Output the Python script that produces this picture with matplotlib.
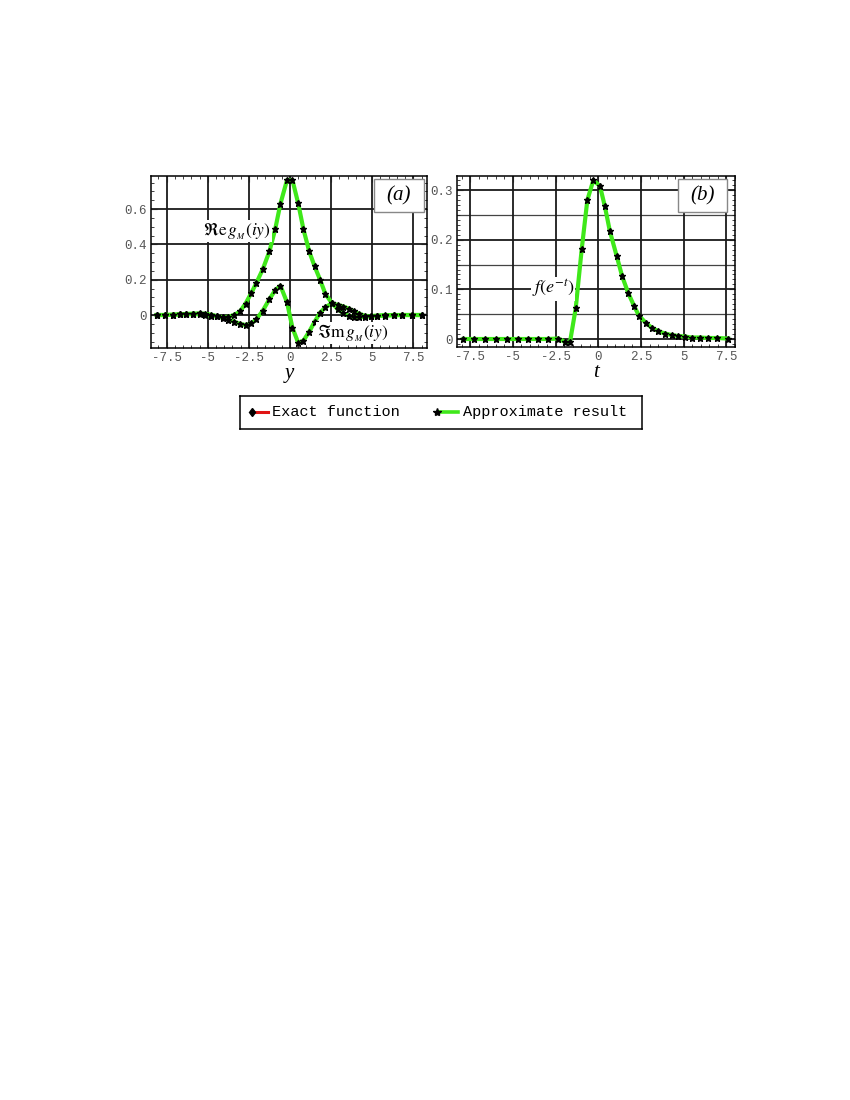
import numpy as np
import matplotlib
matplotlib.use('Agg')
import matplotlib.pyplot as plt
from matplotlib.ticker import MultipleLocator, FuncFormatter
from matplotlib.patches import Rectangle

plt.rcParams['font.family'] = 'Liberation Mono'
plt.rcParams['mathtext.fontset'] = 'stix'
plt.rcParams['axes.unicode_minus'] = False

# ── panel (a): g_M(iy) on the imaginary axis ──
y_a = [-8.1, -7.6, -7.1, -6.7, -6.3, -5.9, -5.5, -5.15, -4.8, -4.45, -4.1, -3.75,
       -3.4, -3.04, -2.7, -2.35, -2.05, -1.65, -1.25, -0.9, -0.58, -0.18, 0.15,
       0.5, 0.82, 1.17, 1.5, 1.83, 2.15, 2.53, 2.9, 3.25, 3.6, 3.9, 4.2, 4.55,
       4.95, 5.3, 5.8, 6.3, 6.8, 7.4, 8.0]
re_g = [0.0, 0.0, 0.001, 0.003, 0.004, 0.005, 0.004, 0.001, -0.004, -0.008, -0.012, -0.01,
        0.0, 0.02, 0.065, 0.125, 0.18, 0.26, 0.36, 0.485, 0.63, 0.764, 0.764,
        0.632, 0.485, 0.36, 0.275, 0.2, 0.12, 0.07, 0.033, 0.01, -0.006, -0.012, -0.013, -0.01,
        -0.006, -0.003, -0.001, 0.0, 0.0, 0.0, 0.0]
im_g = [0.0, 0.0, 0.002, 0.004, 0.006, 0.008, 0.009, 0.007, 0.002, -0.006, -0.016, -0.026,
        -0.038, -0.05, -0.057, -0.047, -0.025, 0.025, 0.09, 0.14, 0.166, 0.072, -0.072,
        -0.157, -0.145, -0.094, -0.038, 0.013, 0.043, 0.066, 0.058, 0.048, 0.035, 0.02, 0.007, -0.004,
        -0.008, -0.006, -0.003, -0.001, 0.0, 0.0, 0.0]

# ── panel (b): f(e^-t) ──
t_b = [-7.89, -7.25, -6.62, -5.98, -5.32, -4.67, -4.09, -3.5, -2.92, -2.33, -1.95, -1.66,
       -1.32, -0.97, -0.64, -0.29, 0.1, 0.38, 0.68, 1.07, 1.4, 1.76, 2.09, 2.38, 2.77,
       3.12, 3.5, 3.9, 4.29, 4.68, 5.07, 5.46, 5.95, 6.43, 6.92, 7.6]
f_b = [0.0, 0.0, 0.0, 0.0, 0.0, 0.0, 0.0, 0.0, 0.0, 0.001, -0.006, -0.007,
       0.062, 0.181, 0.28, 0.32, 0.308, 0.268, 0.217, 0.168, 0.126, 0.092, 0.067, 0.047, 0.033,
       0.023, 0.016, 0.011, 0.008, 0.006, 0.005, 0.003, 0.003, 0.002, 0.002, 0.001]

x_ticks = [-7.5, -5, -2.5, 0, 2.5, 5, 7.5]
a_yticks = [0, 0.2, 0.4, 0.6]
b_yticks = [0, 0.1, 0.2, 0.3]
b_yhalf = [0.05, 0.15, 0.25]

GREEN = '#3fe81a'
RED = '#e01414'
SERIF = 'Liberation Serif'
WHITE_BG = dict(facecolor='white', edgecolor='none', pad=0.3)


def draw_curve(ax, x, y):
    ax.plot(x, y, color=RED, lw=1.3, zorder=3)
    ax.plot(x, y, color=GREEN, lw=3.0, zorder=4)
    ax.plot(x, y, ls='none', marker='d', ms=2.5, color='k', zorder=5)
    ax.plot(x, y, ls='none', marker='*', ms=4.5, color='k', zorder=6)


def style(ax, yticks, xlim, ylim, yminor):
    ax.set_xlim(*xlim)
    ax.set_ylim(*ylim)
    ax.set_xticks(x_ticks)
    ax.set_yticks(yticks)
    ax.xaxis.set_minor_locator(MultipleLocator(0.5))
    ax.yaxis.set_minor_locator(MultipleLocator(yminor))
    fmt = FuncFormatter(lambda v, p: '%g' % v)
    ax.xaxis.set_major_formatter(fmt)
    ax.yaxis.set_major_formatter(fmt)
    ax.grid(True, which='major', color='#1a1a1a', lw=1.3)
    ax.tick_params(which='both', direction='in', top=True, right=True,
                   labelsize=9, labelcolor='#555555', color='#222222', pad=3)
    ax.tick_params(which='major', length=4, width=0.8)
    ax.tick_params(which='minor', length=2, width=0.6)
    for s in ax.spines.values():
        s.set_linewidth(1.1)


def label_box(ax, text, rect):
    ax.add_patch(Rectangle(rect[:2], rect[2], rect[3], transform=ax.transAxes,
                           facecolor='white', edgecolor='#888888', lw=1.0, zorder=8))
    ax.text(rect[0] + rect[2] / 2, rect[1] + rect[3] / 2, text, transform=ax.transAxes,
            ha='center', va='center', fontsize=15, family=SERIF, style='italic', zorder=9)


fig = plt.figure(figsize=(8.5, 11), dpi=100)

# (a)
ax_a = fig.add_axes([151 / 850, 1 - 347.7 / 1100, 276.3 / 850, 171.7 / 1100])
style(ax_a, a_yticks, (-8.45, 8.35), (-0.185, 0.787), 0.05)
draw_curve(ax_a, y_a, re_g)
draw_curve(ax_a, y_a, im_g)
ax_a.set_xlabel('y', family=SERIF, style='italic', fontsize=15, labelpad=0)
ax_a.text(-3.2, 0.475, r'$\Re\mathrm{e}\,g_{_M}(iy)$', fontsize=12.5, ha='center',
          va='center', zorder=7, bbox=WHITE_BG)
ax_a.text(3.8, -0.102, r'$\Im\mathrm{m}\,g_{_M}(iy)$', fontsize=12.5, ha='center',
          va='center', zorder=7, bbox=WHITE_BG)
label_box(ax_a, '(a)', (0.807, 0.789, 0.181, 0.192))

# (b)
ax_b = fig.add_axes([457.3 / 850, 1 - 346.7 / 1100, 277.7 / 850, 170.7 / 1100])
style(ax_b, b_yticks, (-8.25, 8.0), (-0.0155, 0.3285), 0.01)
for h in b_yhalf:
    ax_b.axhline(h, color='#444444', lw=0.9, zorder=1)
draw_curve(ax_b, t_b, f_b)
ax_b.set_xlabel('t', family=SERIF, style='italic', fontsize=15, labelpad=0)
ax_b.text(-2.65, 0.101, r'$f(e^{-t})$', fontsize=13, ha='center', va='center', zorder=7,
          bbox=dict(facecolor='white', edgecolor='none', pad=0.5))
label_box(ax_b, '(b)', (0.796, 0.787, 0.176, 0.193))

# legend drawn as its own little box
lg = fig.add_axes([240 / 850, 1 - 429 / 1100, 402 / 850, 33 / 1100])
lg.set_xlim(0, 402)
lg.set_ylim(0, 33)
lg.set_xticks([])
lg.set_yticks([])
for s in lg.spines.values():
    s.set_linewidth(1.1)
lg.plot([15, 28], [17, 17], color=RED, lw=2.2)
lg.plot([11.5], [17], marker='d', ms=4.5, color='k')
lg.text(32, 17, 'Exact function', fontsize=11, va='center')
lg.plot([200, 218], [17, 17], color=GREEN, lw=2.6)
lg.plot([196.5], [17], marker='*', ms=6, color='k')
lg.text(223, 17, 'Approximate result', fontsize=11, va='center')

fig.savefig('out.png', dpi=100)
